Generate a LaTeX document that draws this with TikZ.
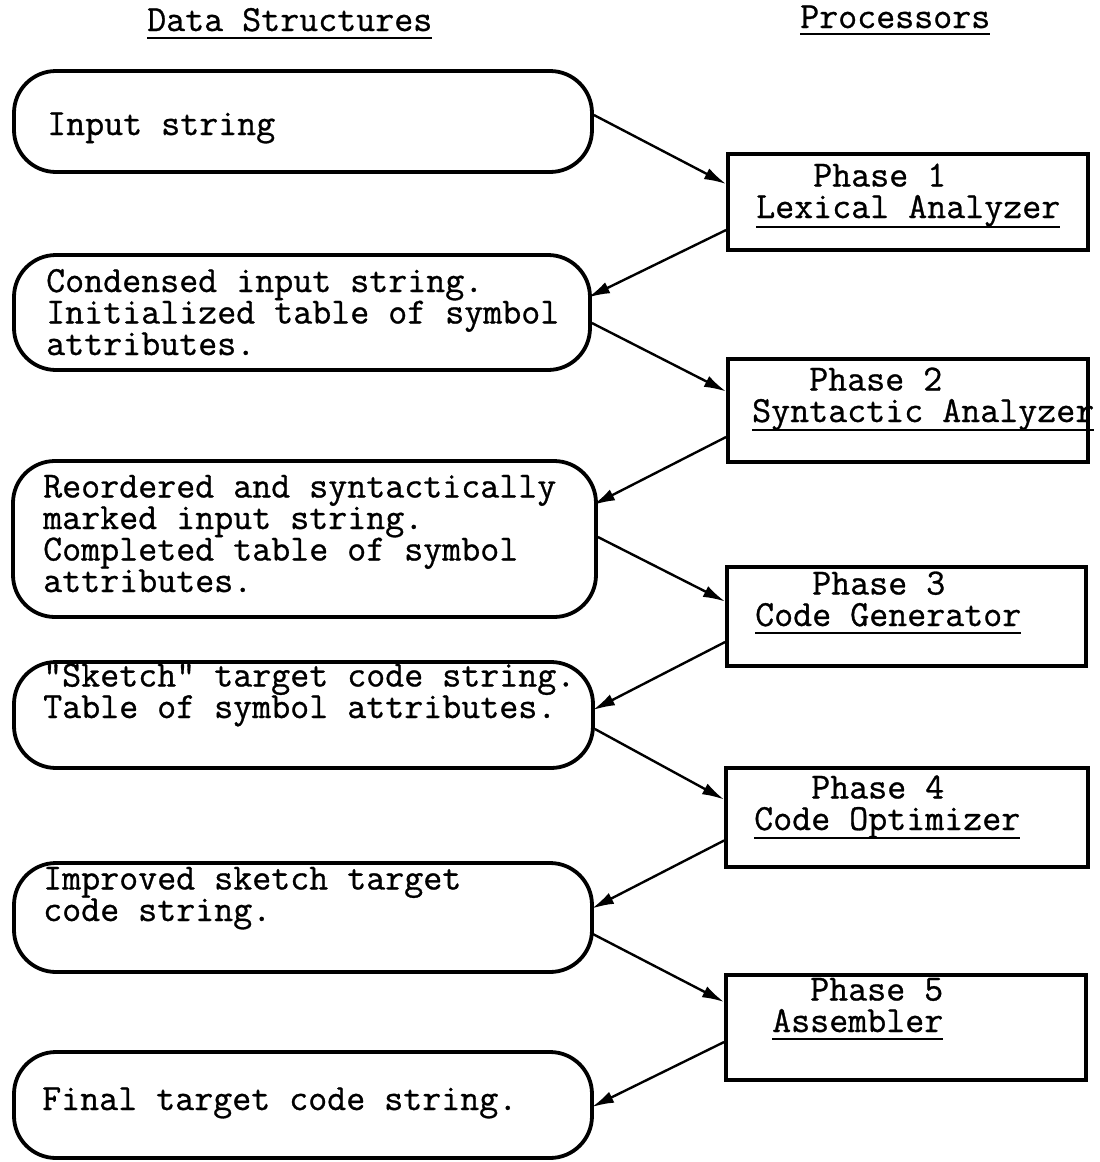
\documentclass[tikz,border=0pt]{standalone}
\usepackage{fontspec}
\setmonofont{Latin Modern Mono}[FakeBold=0.8]
\usetikzlibrary{arrows.meta}
% typed underline: #1 = drop below the baseline (pt), #2 = text
\newcommand\tul[2][11]{\setbox0\hbox{#2}\rlap{\rule[-#1pt]{\wd0}{2pt}}\box0}
\tikzset{
  datastore/.style={draw, line width=3.8pt, rounded corners=42pt, inner sep=0pt},
  procbox/.style={draw, line width=3.8pt, inner sep=0pt},
  txt/.style={anchor=base west, align=left, inner sep=0pt},
  flow/.style={line width=2.4pt, -{Latex[length=22pt,width=12pt]}},
}
\begin{document}
\begin{tikzpicture}[x=1pt, y=-1pt,
  font=\ttfamily\fontsize{36.9}{31.5}\selectfont]
\useasboundingbox (0,0) rectangle (1100,1162);

% column headings (multi-line texts are placed by their last baseline)
\node[txt] (hds) at (147,31) {\tul[8]{Data Structures}};
\node[txt] (hpr) at (800,28) {\tul[7]{Processors}};

% data structures
\node[datastore, minimum width=578pt, minimum height=101pt] (inp)    at (303,121.5) {};
\node[datastore, minimum width=576pt, minimum height=115pt] (cond)   at (302,312.5) {};
\node[datastore, minimum width=583pt, minimum height=156pt] (reord)  at (304.5,539) {};
\node[datastore, minimum width=579pt, minimum height=106pt] (sketch) at (303.5,715) {};
\node[datastore, minimum width=578pt, minimum height=109pt] (impr)   at (303,917.5) {};
\node[datastore, minimum width=578pt, minimum height=106pt] (final)  at (303,1105) {};

\node[txt] (tinp)    at (47,135)  {Input string};
\node[txt] (tcond)   at (46,355)  {Condensed input string.\\Initialized table of symbol\\attributes.};
\node[txt] (treord)  at (43,592)  {Reordered and syntactically\\marked input string.\\Completed table of symbol\\attributes.};
\node[txt] (tsketch) at (43,718)  {"Sketch" target code string.\\Table of symbol attributes.};
\node[txt] (timpr)   at (43,921)  {Improved sketch target\\code string.};
\node[txt] (tfinal)  at (42,1110) {Final target code string.};

% processors
\node[procbox, minimum width=360pt, minimum height=96pt]  (p1) at (908,202)    {};
\node[procbox, minimum width=360pt, minimum height=103pt] (p2) at (908,410.5)  {};
\node[procbox, minimum width=359pt, minimum height=99pt]  (p3) at (906.5,616.5) {};
\node[procbox, minimum width=362pt, minimum height=99pt]  (p4) at (907,817.5)  {};
\node[procbox, minimum width=360pt, minimum height=105pt] (p5) at (906,1027.5) {};

\node[txt] (tp1) at (756,218)  {\ \ \ Phase 1\\\tul[10]{Lexical Analyzer}};
\node[txt] (tp2) at (752,422)  {\ \ \ Phase 2\\\tul[9]{Syntactic Analyzer}};
\node[txt] (tp3) at (755,626)  {\ \ \ Phase 3\\\tul[8]{Code Generator}};
\node[txt] (tp4) at (754,830)  {\ \ \ Phase 4\\\tul[9]{Code Optimizer}};
\node[txt] (tp5) at (772,1032) {\ \ Phase 5\\\tul[8]{Assembler}};

% flow between data structures and processors
\draw[flow] ([yshift=6.5pt]inp.east)            -- ([yshift=18pt]p1.west);
\draw[flow] ([yshift=-28pt]p1.west)             -- ([xshift=-4pt,yshift=15pt]cond.east);
\draw[flow] ([yshift=-10.5pt]cond.east)         -- ([yshift=19pt]p2.west);
\draw[flow] ([yshift=-26.5pt]p2.west)           -- ([xshift=-5pt,yshift=34pt]reord.east);
\draw[flow] ([yshift=2pt]reord.east)            -- ([yshift=15pt]p3.west);
\draw[flow] ([yshift=-25.5pt]p3.west)           -- ([xshift=-2pt,yshift=5pt]sketch.east);
\draw[flow] ([yshift=-14pt]sketch.east)         -- ([yshift=18pt]p4.west);
\draw[flow] ([yshift=-23pt]p4.west)             -- ([xshift=-2pt,yshift=9pt]impr.east);
\draw[flow] ([xshift=-2pt,yshift=-16pt]impr.east) -- ([yshift=25.5pt]p5.west);
\draw[flow] ([yshift=-14.5pt]p5.west)           -- ([xshift=-2pt,yshift=-2pt]final.east);
\end{tikzpicture}
\end{document}
